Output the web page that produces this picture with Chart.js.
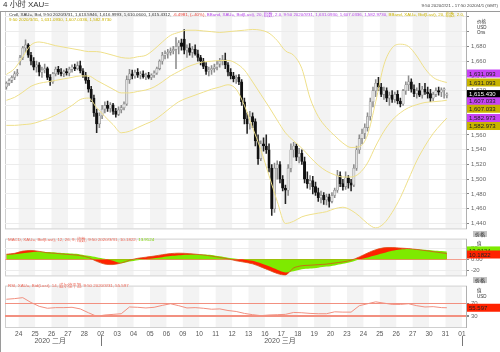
<!DOCTYPE html>
<html>
<head>
<meta charset="utf-8">
<script src="https://cdn.jsdelivr.net/npm/chart.js@4.4.1/dist/chart.umd.min.js"></script>
<style>
body { margin: 0; background: #fff; }
#wrap { position: relative; width: 500px; height: 352px; overflow: hidden; font-family: "Liberation Sans", "Noto Sans CJK SC", sans-serif; }
canvas { position: absolute; left: 0; }
.t { position: absolute; white-space: nowrap; line-height: 1; }
.hb { position: absolute; background: #c4c4c4; color: #222; font-size: 5px; line-height: 6px; padding: 0 2px; }
</style>
</head>
<body>
<div id="wrap">
  <canvas id="main" width="500" height="234" style="top:0"></canvas>
  <canvas id="macd" width="500" height="47" style="top:234px"></canvas>
  <canvas id="rsi" width="500" height="71" style="top:281px"></canvas>

  <div style="position:absolute;left:0;top:11px;width:500px;height:341px;border-top:1px solid #9a9a9a;border-left:1px solid #9a9a9a;box-sizing:border-box"></div>
  <div class="t" style="left:3px;top:1px;font-size:8px;color:#333">4 小时 XAU=</div>
  <div class="t" style="right:2px;top:4px;font-size:4.4px;color:#444">9:50 2020/2/21 - 17:50 2020/4/1 (GMT)</div>
  <div class="t" style="left:9px;top:12.5px;font-size:4.4px;color:#333">Cndl, XAU=, Bid, 9:50 2020/3/31, 1,613.5946, 1,616.9993, 1,610.0600, 1,615.4312, <span style="color:#e83a30">-6.4981, (-.40%), </span><span style="color:#b544e8">BBand, XAU=, Bid(Last), 20, 指数, 2.0, 9:50 2020/3/31, 1,631.0930, 1,607.0336, 1,582.9730, </span><span style="color:#cbb400">BBand, XAU=, Bid(Last), 20, 指数, 2.0,</span></div>
  <div class="t" style="left:9px;top:18px;font-size:4.4px;color:#cbb400">9:50 2020/3/31, 1,631.0930, 1,607.0336, 1,582.9730</div>
  <div class="t" style="left:477px;top:20px;font-size:4.5px;color:#333">价格</div>
  <div class="t" style="left:477px;top:25.5px;font-size:4.5px;color:#333">USD</div>
  <div class="t" style="left:477px;top:30.5px;font-size:4.5px;color:#333">Ons</div>

  <div class="t" style="left:8px;top:238px;font-size:4.4px;color:#ef6a5a">MACD, XAU=, Bid(Last), 12, 26, 9, 指数, 9:50 2020/3/31, 10.1822, <span style="color:#7ad000">13.9124</span></div>
  <div class="t" style="left:8px;top:283.5px;font-size:4.4px;color:#ef6a5a">RSI, XAU=, Bid(Last), 14, 威尔德平滑, 9:50 2020/3/31, 55.597</div>
  <div class="hb" style="left:473px;top:231px">价格</div>
  <div class="hb" style="left:473px;top:277px">价格</div>
  <div class="t" style="left:477px;top:242px;font-size:4.5px;color:#333">值</div>
  <div class="t" style="left:477px;top:289px;font-size:4.5px;color:#333">值</div>
  <div class="t" style="left:477px;top:295px;font-size:4.5px;color:#333">USD</div>
</div>
<script>
// day ticks on the time axis (trading days, Feb 24 .. Apr 1)
const dayLabels = ['24','25','26','27','28','02','03','04','05','06','09','10','11','12','13','16','17','18','19','20','23','24','25','26','27','30','31','01']
const monthLabels = ['2020 二月', '2020 三月']

// 4 hour candles, 9:50 2020/2/21 .. 9:50 2020/3/31
const openP = [1625,1630,1634,1638,1643,1660,1665,1678,1682,1668,1660,1652,1655,1645,1648,1650,1638,1632,1643,1649,1645,1643,1646,1644,1649,1652,1650,1654,1647,1641,
  1634,1622,1610,1590,1575,1586,1595,1600,1596,1601,1592,1588,1594,1597,1602,1635,1643,1640,1645,1641,1643,1639,1641,1638,1641,1644,1650,1660,1668,1670,
  1672,1674,1676,1680,1685,1690,1675,1678,1672,1676,1670,1665,1660,1653,1646,1648,1650,1652,1656,1660,1662,1655,1645,1640,1636,1638,1632,1605,1582,1575,
  1585,1578,1552,1528,1548,1545,1540,1515,1460,1515,1520,1500,1488,1485,1515,1540,1545,1530,1535,1524,1500,1494,1498,1490,1482,1475,1478,1472,1476,1470,
  1478,1485,1505,1494,1490,1502,1495,1492,1515,1540,1555,1562,1570,1585,1605,1620,1630,1625,1615,1620,1610,1614,1608,1615,1606,1602,1620,1628,1632,1622,
  1616,1620,1614,1622,1618,1616,1610,1615,1620,1618,1621,1613.59]
const highP = [1632,1636,1640,1646,1649,1668,1680,1689,1684,1672,1665,1660,1658,1652,1656,1652,1642,1645,1652,1653,1650,1648,1650,1652,1655,1656,1659,1660,1650,1645,
  1638,1626,1614,1595,1590,1600,1605,1606,1604,1603,1596,1598,1600,1605,1640,1649,1648,1648,1650,1646,1647,1644,1645,1643,1647,1652,1662,1672,1674,1676,
  1678,1680,1692,1688,1690,1703,1682,1684,1680,1682,1675,1668,1664,1658,1652,1654,1656,1660,1664,1668,1671,1658,1650,1645,1641,1642,1635,1610,1590,1592,
  1590,1582,1560,1552,1556,1560,1548,1520,1522,1525,1524,1505,1492,1520,1548,1550,1548,1542,1540,1530,1510,1505,1504,1496,1488,1484,1482,1480,1480,1482,
  1488,1512,1510,1500,1510,1505,1500,1520,1545,1560,1568,1575,1590,1610,1625,1635,1638,1630,1625,1624,1618,1620,1618,1620,1610,1622,1632,1640,1636,1628,
  1624,1630,1626,1630,1625,1622,1618,1624,1625,1624,1624,1617.00]
const lowP = [1622,1627,1631,1635,1640,1655,1662,1672,1665,1655,1648,1645,1640,1638,1644,1635,1627,1630,1640,1642,1640,1639,1641,1640,1645,1647,1648,1644,1638,1630,
  1618,1605,1585,1563,1570,1582,1590,1592,1591,1588,1584,1586,1590,1594,1600,1630,1636,1637,1638,1636,1637,1635,1636,1635,1638,1642,1648,1656,1663,1664,
  1668,1670,1650,1670,1675,1670,1665,1668,1665,1668,1660,1655,1650,1642,1640,1642,1645,1648,1652,1655,1650,1640,1636,1632,1630,1628,1600,1575,1562,1568,
  1570,1545,1520,1525,1538,1535,1510,1451,1455,1500,1495,1484,1467,1478,1510,1530,1525,1522,1520,1495,1488,1486,1480,1478,1470,1468,1466,1465,1462,1468,
  1475,1482,1490,1485,1486,1488,1484,1490,1512,1535,1548,1555,1565,1580,1598,1612,1620,1612,1608,1605,1600,1604,1604,1602,1598,1600,1615,1620,1618,1612,
  1610,1612,1610,1615,1610,1605,1606,1612,1614,1612,1610,1610.06]
const closeP = [1630,1634,1638,1643,1644,1665,1678,1682,1668,1660,1652,1655,1645,1648,1650,1638,1632,1643,1649,1645,1643,1646,1644,1649,1652,1650,1654,1647,1641,1634,
  1622,1610,1590,1575,1586,1595,1600,1596,1601,1592,1588,1594,1597,1602,1635,1643,1640,1645,1641,1643,1639,1641,1638,1641,1644,1650,1660,1668,1670,1672,
  1674,1676,1680,1685,1680,1675,1678,1672,1676,1670,1665,1660,1653,1646,1648,1650,1652,1656,1660,1662,1655,1645,1640,1636,1638,1632,1605,1582,1575,1585,
  1578,1552,1528,1548,1545,1540,1515,1460,1515,1520,1500,1488,1485,1515,1540,1545,1530,1535,1524,1500,1494,1498,1490,1482,1475,1478,1472,1476,1470,1478,
  1485,1505,1494,1490,1502,1495,1492,1515,1540,1555,1562,1570,1585,1605,1620,1630,1625,1615,1620,1610,1614,1608,1615,1606,1602,1620,1628,1632,1622,1616,
  1620,1614,1622,1618,1616,1610,1615,1620,1618,1621,1621.93,1615.43]

// Bollinger bands (20, exp, 2.0) read at every third candle
const bandIdx = [0,3,6,9,12,15,18,21,24,27,30,33,36,39,42,45,48,51,54,57,60,63,66,69,72,75,78,81,84,87,90,93,96,99,102,105,108,111,114,117,120,123,126,129,132,135,138,141,144,147,150,153,156,159,161]
const bandUpper = [1642,1650,1666,1682,1686,1684,1681,1679,1677,1675,1673,1673,1671,1668,1665,1664,1666,1668,1676,1686,1695,1699,1702,1702,1701,1700,1699,1700,1701,1702,
  1703,1702,1698,1688,1674,1668,1650,1610,1585,1570,1559,1549,1543,1544,1560,1605,1655,1678,1683,1680,1667,1650,1638,1633,1631.093]
const bandMid = [1607,1611,1618,1626,1630,1632,1634,1636,1638,1640,1640,1634,1628,1622,1617,1617,1619,1621,1625,1632,1640,1646,1652,1656,1659,1660,1661,1661,1657,1648,
  1632,1615,1598,1580,1563,1552,1542,1530,1519,1511,1506,1503,1503,1508,1522,1545,1565,1580,1590,1597,1601,1604,1605,1606,1607.033]
const bandLower = [1573,1573,1574,1575,1578,1582,1587,1593,1600,1608,1610,1597,1585,1574,1563,1565,1570,1575,1580,1588,1597,1605,1610,1614,1618,1622,1625,1628,1622,1600,
  1570,1540,1505,1470,1440,1443,1449,1452,1454,1456,1460,1462,1458,1450,1440,1434,1440,1455,1475,1500,1525,1545,1562,1575,1582.973]

// MACD 12/26/9 and signal
const macdLine = [8.8,10.5,14.5,15.7,14,11.5,10.5,9,8,6.5,3,-4,-9,-9.8,-7,-2,1.5,3.5,5.5,8,10,10.8,10.2,9,7.5,5.5,3,0.5,-3,-5.5,
  -8.5,-14,-20,-26,-29,-16,-12,-11,-10,-9,-7,-5,-2,4,11,17,20.5,21,20,19,17.5,15.5,13.5,11.5,10.1822]
const signalLine = [8.2,9,10.5,12.5,13.2,12.8,12,11,10,8.5,6,3.5,0.5,-3,-7.4,-4.5,-2,0,1.5,3.5,5.5,7,8,8.5,8.3,7.5,5,2.5,0.5,-1,
  -3,-7.5,-13,-19,-24,-22,-18.5,-17,-15.5,-13.5,-11.3,-8.5,-5,-0.5,3,7,11,15,17.5,18.5,18,17,15.8,14.6,13.9124]

// RSI 14
const rsiLine = [82,84,87,72,60,54,56,56,57,52,40,29,33,35,37,58,57,55,57,63,68,62,55,56,54,51,52,47,44,38,
  34,31,33,34,35,41,40,38,37,37,43,42,42,62,68,74,70,66,66,68,62,58,59,56,55.597]

const X_MAX = 168.5
const dayStart = (d) => 5 + 6 * d
const xAxis = { type: 'linear', min: 0, max: X_MAX, offset: false, display: false }
const fmt = (v) => (Math.floor(v * 1000) / 1000).toLocaleString('en-US', { minimumFractionDigits: 3, maximumFractionDigits: 3 })
const rightAxis = (extra) => Object.assign({
  position: 'right',
  afterFit: (s) => { s.width = 34 },
  border: { display: true, color: '#b0b0b0' },
  grid: { color: '#ececec', tickLength: 3, tickColor: '#888' },
  ticks: { font: { family: 'Liberation Sans', size: 6 }, color: '#666', padding: 2 },
}, extra)

const dayShade = {
  id: 'dayShade',
  beforeDraw(chart) {
    const { ctx, chartArea: a, scales: { x } } = chart
    ctx.save()
    ctx.fillStyle = '#f3f3f3'
    dayLabels.forEach((_, d) => {
      if (d % 2) return
      const x0 = Math.max(a.left, x.getPixelForValue(dayStart(d)))
      const x1 = Math.min(a.right, x.getPixelForValue(dayStart(d + 1)))
      ctx.fillRect(x0, a.top, x1 - x0, a.bottom - a.top)
    })
    ctx.strokeStyle = '#cfcfcf'
    ctx.lineWidth = 1
    ctx.strokeRect(a.left + 0.5, a.top - 0.5, a.right - a.left, a.bottom - a.top + 1)
    ctx.restore()
  },
}

function drawBoxes(chart, boxes) {
  const { ctx, scales: { y } } = chart
  ctx.save()
  ctx.font = '6px "Liberation Sans"'
  ctx.textBaseline = 'middle'
  boxes.forEach((b) => {
    const py = y.getPixelForValue(b.v) + b.dy
    ctx.fillStyle = b.bg
    ctx.fillRect(467, py - 4, 33, 8)
    ctx.fillStyle = b.fg
    ctx.fillText(b.txt, 469, py + 0.5)
  })
  ctx.restore()
}

const last = closeP.length - 1
const bn = bandIdx.length - 1
const up = closeP.map((c, i) => c >= openP[i])
const bandStyle = { type: 'line', borderColor: '#efe08a', borderWidth: 1, pointRadius: 0, cubicInterpolationMode: 'monotone' }

new Chart(document.getElementById('main'), {
  type: 'bar',
  data: {
    datasets: [
      { ...bandStyle, data: bandIdx.map((k, j) => ({ x: k + 0.5, y: bandUpper[j] })) },
      { ...bandStyle, data: bandIdx.map((k, j) => ({ x: k + 0.5, y: bandMid[j] })) },
      { ...bandStyle, data: bandIdx.map((k, j) => ({ x: k + 0.5, y: bandLower[j] })) },
      {
        data: openP.map((o, i) => ({ x: i + 0.5, y: [o, closeP[i]] })),
        backgroundColor: up.map((u) => (u ? '#e2e2e2' : '#111')),
        borderColor: up.map((u) => (u ? '#8c8c8c' : '#111')),
        borderWidth: 0.6, borderSkipped: false,
        barThickness: 2.4, minBarLength: 1, grouped: false,
      },
      {
        data: lowP.map((l, i) => ({ x: i + 0.5, y: [l, highP[i]] })),
        backgroundColor: up.map((u) => (u ? '#8c8c8c' : '#222')),
        barThickness: 0.9, grouped: false,
      },
    ],
  },
  options: {
    responsive: false, animation: false, devicePixelRatio: 1, events: [],
    layout: { padding: { left: 5, top: 12, bottom: 2, right: 0 } },
    plugins: { legend: { display: false }, tooltip: { enabled: false } },
    scales: {
      x: xAxis,
      y: rightAxis({
        min: 1433.33, max: 1726.67,
        ticks: {
          stepSize: 20, includeBounds: false, font: { family: 'Liberation Sans', size: 6 }, color: '#666', padding: 2,
          callback: (v) => (v > 1690 ? '' : v.toLocaleString('en-US')),
        },
      }),
    },
  },
  plugins: [dayShade, {
    id: 'boxes',
    afterDraw(chart) {
      drawBoxes(chart, [
        { v: bandUpper[bn], dy: -9, bg: '#c744f5', fg: '#222', txt: fmt(bandUpper[bn]) },
        { v: bandUpper[bn], dy: 0, bg: '#c8b400', fg: '#222', txt: fmt(bandUpper[bn]) },
        { v: closeP[last], dy: 0, bg: '#000', fg: '#fff', txt: fmt(closeP[last]) },
        { v: bandMid[bn], dy: 1, bg: '#c744f5', fg: '#222', txt: fmt(bandMid[bn]) },
        { v: bandMid[bn], dy: 8.5, bg: '#c8b400', fg: '#222', txt: fmt(bandMid[bn]) },
        { v: bandLower[bn], dy: 0, bg: '#c744f5', fg: '#222', txt: fmt(bandLower[bn]) },
        { v: bandLower[bn], dy: 8, bg: '#c8b400', fg: '#222', txt: fmt(bandLower[bn]) },
      ])
    },
  }],
})

new Chart(document.getElementById('macd'), {
  type: 'line',
  data: {
    datasets: [
      {
        data: bandIdx.map((k, j) => ({ x: k + 0.5, y: signalLine[j] })),
        borderWidth: 0, borderColor: 'rgba(0,0,0,0)', backgroundColor: '#7eea00', fill: 'origin', pointRadius: 0, tension: 0.3,
      },
      {
        data: bandIdx.map((k, j) => ({ x: k + 0.5, y: macdLine[j] })),
        borderWidth: 0.8, borderColor: '#d8501a', backgroundColor: '#ff2200', fill: 'origin', pointRadius: 0, tension: 0.3,
      },
    ],
  },
  options: {
    responsive: false, animation: false, devicePixelRatio: 1, events: [],
    layout: { padding: { left: 5, top: 2, bottom: 1, right: 0 } },
    plugins: { legend: { display: false }, tooltip: { enabled: false }, filler: { drawTime: 'beforeDatasetsDraw' } },
    scales: {
      x: xAxis,
      y: rightAxis({
        min: -29.4, max: 35.3,
        afterBuildTicks: (s) => { s.ticks = [{ value: -20 }, { value: 0 }, { value: 20 }] },
        grid: { color: (c) => (c.tick && c.tick.value === 0 ? '#f4a090' : '#ececec'), tickLength: 3, tickColor: '#888' },
        ticks: { font: { family: 'Liberation Sans', size: 6 }, color: '#666', padding: 2, callback: (v) => (v === 0 ? '0.00' : String(v)) },
      }),
    },
  },
  plugins: [dayShade, {
    id: 'boxes',
    afterDraw(chart) {
      drawBoxes(chart, [
        { v: signalLine[bn], dy: -1, bg: '#7eea00', fg: '#222', txt: signalLine[bn].toFixed(4) },
        { v: macdLine[bn], dy: 1, bg: '#ff2200', fg: '#222', txt: macdLine[bn].toFixed(4) },
      ])
    },
  }],
})

new Chart(document.getElementById('rsi'), {
  type: 'line',
  data: {
    datasets: [{
      data: bandIdx.map((k, j) => ({ x: k + 0.5, y: rsiLine[j] })),
      borderWidth: 1, borderColor: '#f29080', pointRadius: 0, tension: 0,
    }],
  },
  options: {
    responsive: false, animation: false, devicePixelRatio: 1, events: [],
    layout: { padding: { left: 5, top: 2, bottom: 0, right: 0 } },
    plugins: { legend: { display: false }, tooltip: { enabled: false } },
    scales: {
      x: {
        type: 'linear', min: 0, max: X_MAX, offset: false,
        afterBuildTicks: (s) => { s.ticks = dayLabels.map((_, d) => ({ value: dayStart(d) })) },
        afterFit: (s) => { s.height = 25 },
        grid: { display: false, drawTicks: false },
        border: { display: false },
        ticks: {
          autoSkip: false, maxRotation: 0, padding: 3, color: '#555',
          font: { family: 'Liberation Sans', size: 6.5 },
          callback: (v, i) => dayLabels[i],
        },
      },
      y: rightAxis({
        min: -4.3, max: 121.4,
        afterBuildTicks: (s) => { s.ticks = [{ value: 30 }, { value: 70 }] },
        grid: { color: '#f29080', lineWidth: (c) => (c.tick && c.tick.value === 30 ? 2 : 1), tickLength: 3, tickColor: '#888' },
      }),
    },
  },
  plugins: [dayShade, {
    id: 'extras',
    afterDraw(chart) {
      const { ctx, scales: { x } } = chart
      drawBoxes(chart, [{ v: rsiLine[bn], dy: 0, bg: '#ff2200', fg: '#222', txt: rsiLine[bn].toFixed(3) }])
      ctx.save()
      ctx.fillStyle = '#555'
      ctx.font = '7px "Liberation Sans", "Noto Sans CJK SC"'
      ctx.textAlign = 'center'
      ctx.textBaseline = 'middle'
      ctx.fillText(monthLabels[0], x.getPixelForValue(16.5), 60)
      ctx.fillText(monthLabels[1], x.getPixelForValue(100.5), 60)
      ctx.strokeStyle = '#777'
      ctx.lineWidth = 1;
      [dayStart(5), dayStart(27)].forEach((v) => {
        const px = Math.round(x.getPixelForValue(v)) + 0.5
        ctx.beginPath()
        ctx.moveTo(px, 55)
        ctx.lineTo(px, 65)
        ctx.stroke()
      })
      ctx.restore()
    },
  }],
})
</script>
</body>
</html>
